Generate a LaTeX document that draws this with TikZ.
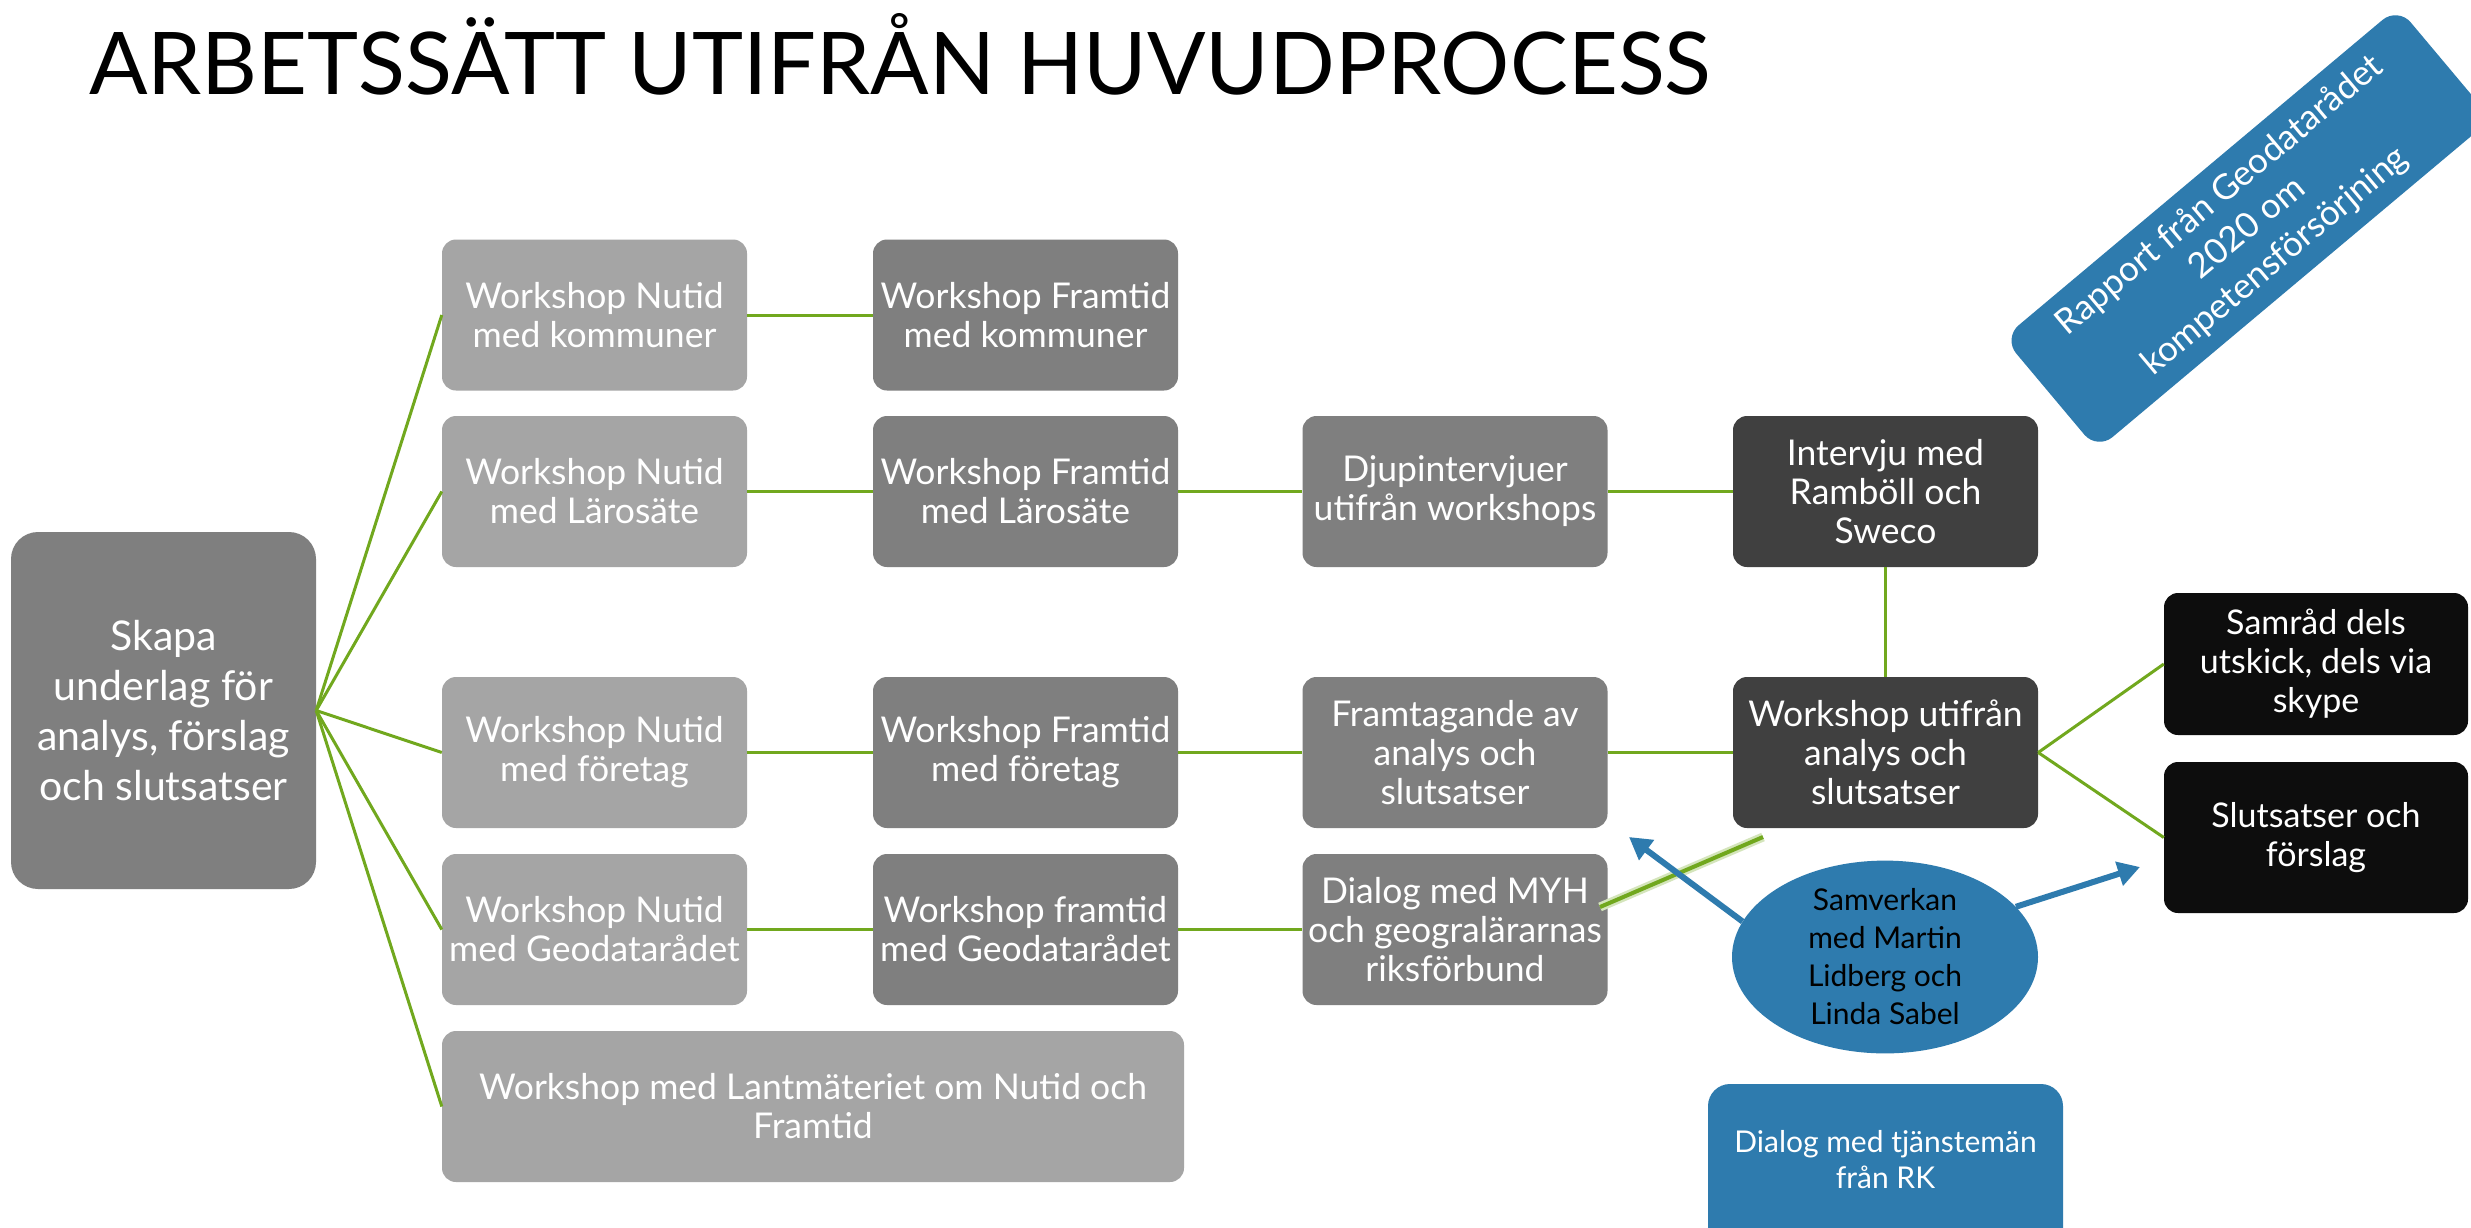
\documentclass[tikz,border=0pt]{standalone}
\usepackage{fontspec}
\setmainfont{Lato}
\usetikzlibrary{arrows.meta,shapes.geometric}
\definecolor{gA}{HTML}{A5A5A5}
\definecolor{gB}{HTML}{7F7F7F}
\definecolor{gC}{HTML}{404040}
\definecolor{gD}{HTML}{0D0D0D}
\definecolor{blu}{HTML}{2E7BAE}
\definecolor{grn}{HTML}{71A81E}
\begin{document}
\begin{tikzpicture}[x=1pt,y=-1pt,
  box/.style={rounded corners=14pt, inner sep=0pt, text=white, align=center,
    font=\fontsize{35.5}{39}\selectfont, minimum width=305pt, minimum height=151pt},
  light/.style={box, fill=gA},
  mid/.style={box, fill=gB},
  dark/.style={box, fill=gC},
  blk/.style={box, fill=gD},
  link/.style={grn, line width=3pt},
  barrow/.style={blu, line width=6pt, -{Triangle[length=22pt,width=24pt]}}
]
\useasboundingbox (0,0) rectangle (2471,1227);
\fill[white] (0,0) rectangle (2471,1227);
\clip (0,0) rectangle (2471,1227);

\node[anchor=base west, inner sep=0pt, font=\fontsize{86.5}{90}\selectfont] (title) at (89,94) {ARBETSSÄTT UTIFRÅN HUVUDPROCESS};

% rotated report box
\node[rotate=40, fill=blu, rounded corners=20pt, minimum width=515pt, minimum height=146pt,
  inner sep=0pt, text=white, align=center, font=\fontsize{35}{43}\selectfont] (rap) at (2247.5,228.5)
  {Rapport från Geodatarådet\\2020 om\\kompetensförsörjning};

% main box
\node[mid, rounded corners=27pt, minimum height=357pt, font=\fontsize{41}{50}\selectfont] (sk) at (163.5,710.5)
  {Skapa\\underlag för\\analys, förslag\\och slutsatser};

% column 1
\node[light] (n11) at (594.5,315)   {Workshop Nutid\\med kommuner};
\node[light] (n21) at (594.5,491.5) {Workshop Nutid\\med Lärosäte};
\node[light] (n31) at (594.5,752.5) {Workshop Nutid\\med företag};
\node[light] (n41) at (594.5,929.5) {Workshop Nutid\\med Geodatarådet};
\node[light, minimum width=742pt] (n51) at (813,1106.5) {Workshop med Lantmäteriet om Nutid och\\Framtid};

% column 2
\node[mid] (n12) at (1025.5,315)   {Workshop Framtid\\med kommuner};
\node[mid] (n22) at (1025.5,491.5) {Workshop Framtid\\med Lärosäte};
\node[mid] (n32) at (1025.5,752.5) {Workshop Framtid\\med företag};
\node[mid] (n42) at (1025.5,929.5) {Workshop framtid\\med Geodatarådet};

% column 3
\node[mid] (n23) at (1455,491.5) {Djupintervjuer\\utifrån workshops};
\node[mid] (n33) at (1455,752.5) {Framtagande av\\analys och\\slutsatser};
\node[mid] (n43) at (1455,929.5) {Dialog med MYH\\och geogralärarnas\\riksförbund};

% column 4
\node[dark] (n24) at (1885.5,491.5) {Intervju med\\Ramböll och\\Sweco};
\node[dark] (n34) at (1885.5,752.5) {Workshop utifrån\\analys och\\slutsatser};

% column 5
\node[blk, minimum width=304pt, minimum height=142pt, font=\fontsize{34}{39}\selectfont] (n5a) at (2316,664) {Samråd dels\\utskick, dels via\\skype};
\node[blk, minimum width=304pt, font=\fontsize{34}{39}\selectfont] (n5b) at (2316,837.5) {Slutsatser och\\förslag};

% ellipse
\node[ellipse, fill=blu, minimum width=306pt, minimum height=180pt, inner sep=0pt, align=center,
  text=black, font=\fontsize{30}{38}\selectfont] (ell) at (1885,957)
  {Samverkan\\med Martin\\Lidberg och\\Linda Sabel};

% RK box
\node[fill=blu, rounded corners=22pt, minimum width=355pt, minimum height=180pt, inner sep=0pt] (rk) at (1885.5,1174) {};
\node[text=white, align=center, inner sep=0pt, font=\fontsize{30}{36}\selectfont] (rkt) at (1885.5,1160)
  {Dialog med tjänstemän\\från RK};

% connectors
\foreach \t in {n11,n21,n31,n41,n51} \draw[link] (sk.east) -- (\t.west);
\draw[link] (n11.east) -- (n12.west);
\draw[link] (n21.east) -- (n22.west);
\draw[link] (n22.east) -- (n23.west);
\draw[link] (n23.east) -- (n24.west);
\draw[link] (n31.east) -- (n32.west);
\draw[link] (n32.east) -- (n33.west);
\draw[link] (n33.east) -- (n34.west);
\draw[link] (n41.east) -- (n42.west);
\draw[link] (n42.east) -- (n43.west);
\draw[link] (n24.south) -- (n34.north);
\draw[link] (n34.east) -- (n5a.west);
\draw[link] (n34.east) -- (n5b.west);

% glowing line
\coordinate (g1) at (1600,907);
\coordinate (g2) at (1763,837);
\draw[grn!30, line width=9pt] (g1) -- (g2);
\draw[grn, line width=4pt] (g1) -- (g2);

% blue arrows
\coordinate (t1) at (1629,837);
\coordinate (t2) at (2140,867);
\draw[barrow] (ell.166.6) -- (t1);
\draw[barrow] (ell.21.7) -- (t2);
\end{tikzpicture}
\end{document}
